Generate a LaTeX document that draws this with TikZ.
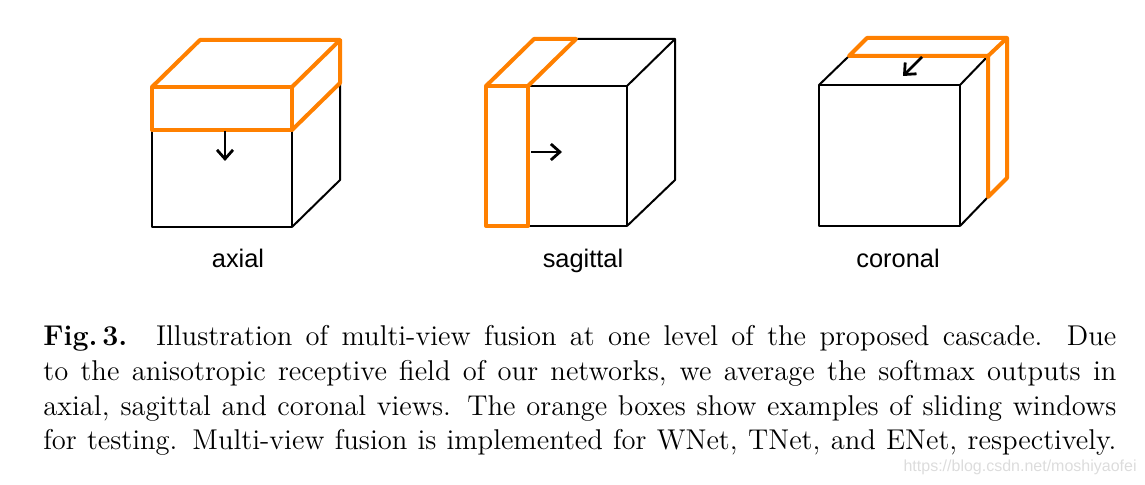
\documentclass[tikz,border=0pt]{standalone}
\usepackage{fontspec}
\usepackage{xcolor}
\usepackage{tikz}
\usetikzlibrary{arrows.meta}
\newfontfamily\viewfont{Liberation Sans}
\definecolor{SlabOrange}{HTML}{FF8000}
\definecolor{MarkGray}{HTML}{DCDCDC}

\begin{document}
\begin{tikzpicture}[x=0.5pt,y=-0.5pt,
  edge/.style={draw=black,line width=1pt,line join=round},
  slab/.style={draw=SlabOrange,line width=2pt,line join=round},
  shift arrow/.style={-{Straight Barb[length=4.5pt,width=8pt]},line width=1.4pt},
  view label/.style={anchor=base,inner sep=0pt,font=\viewfont\fontsize{12.7}{14}\selectfont},
  caption line/.style={anchor=base west,inner sep=0pt,font=\fontsize{14.3}{17}\selectfont}]
\path[use as bounding box] (0,0) rectangle (1145,485);
% axial
\coordinate (ax top) at (225,131);
\coordinate (ax end) at (225,161);
\draw[edge] (152,130) -- (152,227) -- (292,227) -- (292,130);
\draw[edge] (292,227) -- (340,180) -- (340,83);
\draw[slab] (152,87) rectangle (292,130);
\draw[slab] (152,87) -- (200,40) -- (340,40) -- (292,87);
\draw[slab] (292,130) -- (340,83) -- (340,40);
\draw[shift arrow] (ax top) -- (ax end);
\node[view label] (axial) at (238,268) {axial};
% sagittal
\coordinate (sa top) at (531,152);
\coordinate (sa end) at (562,152);
\draw[edge] (528,86) -- (627,86) -- (627,226) -- (528,226);
\draw[edge] (576,39) -- (675,39) -- (627,86);
\draw[edge] (675,39) -- (675,180) -- (627,226);
\draw[slab] (486,86) rectangle (528,226);
\draw[slab] (486,86) -- (534,39) -- (576,39) -- (528,86);
\draw[shift arrow] (sa top) -- (sa end);
\node[view label] (sagittal) at (583,268) {sagittal};
% coronal
\coordinate (co top) at (922,57);
\coordinate (co end) at (903,76);
\draw[edge] (819,85) rectangle (960,226);
\draw[edge] (819,85) -- (849,56);
\draw[edge] (960,85) -- (988,56);
\draw[edge] (960,226) -- (988,197);
\draw[slab] (849,56) -- (988,56) -- (988,197) -- (1007,178) -- (1007,38) -- (867,38) -- cycle;
\draw[slab] (988,56) -- (1007,38);
\draw[shift arrow] (co top) -- (co end);
\node[view label] (coronal) at (898,268) {coronal};
% caption
\node[caption line] (cap1) at (43,346) {\makebox[536.5pt][s]{\textbf{Fig.\,3.}\quad Illustration of multi-view fusion at one level of the proposed cascade. Due}};
\node[caption line] (cap2) at (43,381) {\makebox[536.5pt][s]{to the anisotropic receptive field of our networks, we average the softmax outputs in}};
\node[caption line] (cap3) at (43,416) {\makebox[536.5pt][s]{axial, sagittal and coronal views. The orange boxes show examples of sliding windows}};
\node[caption line] (cap4) at (43,450) {\makebox[536.5pt][s]{for testing. Multi-view fusion is implemented for WNet, TNet, and ENet, respectively.}};
\node[anchor=base east,inner sep=0pt,text=MarkGray,font=\viewfont\fontsize{8}{9}\selectfont] (mark) at (1137,472) {https://blog.csdn.net/moshiyaofei};
\end{tikzpicture}
\end{document}
